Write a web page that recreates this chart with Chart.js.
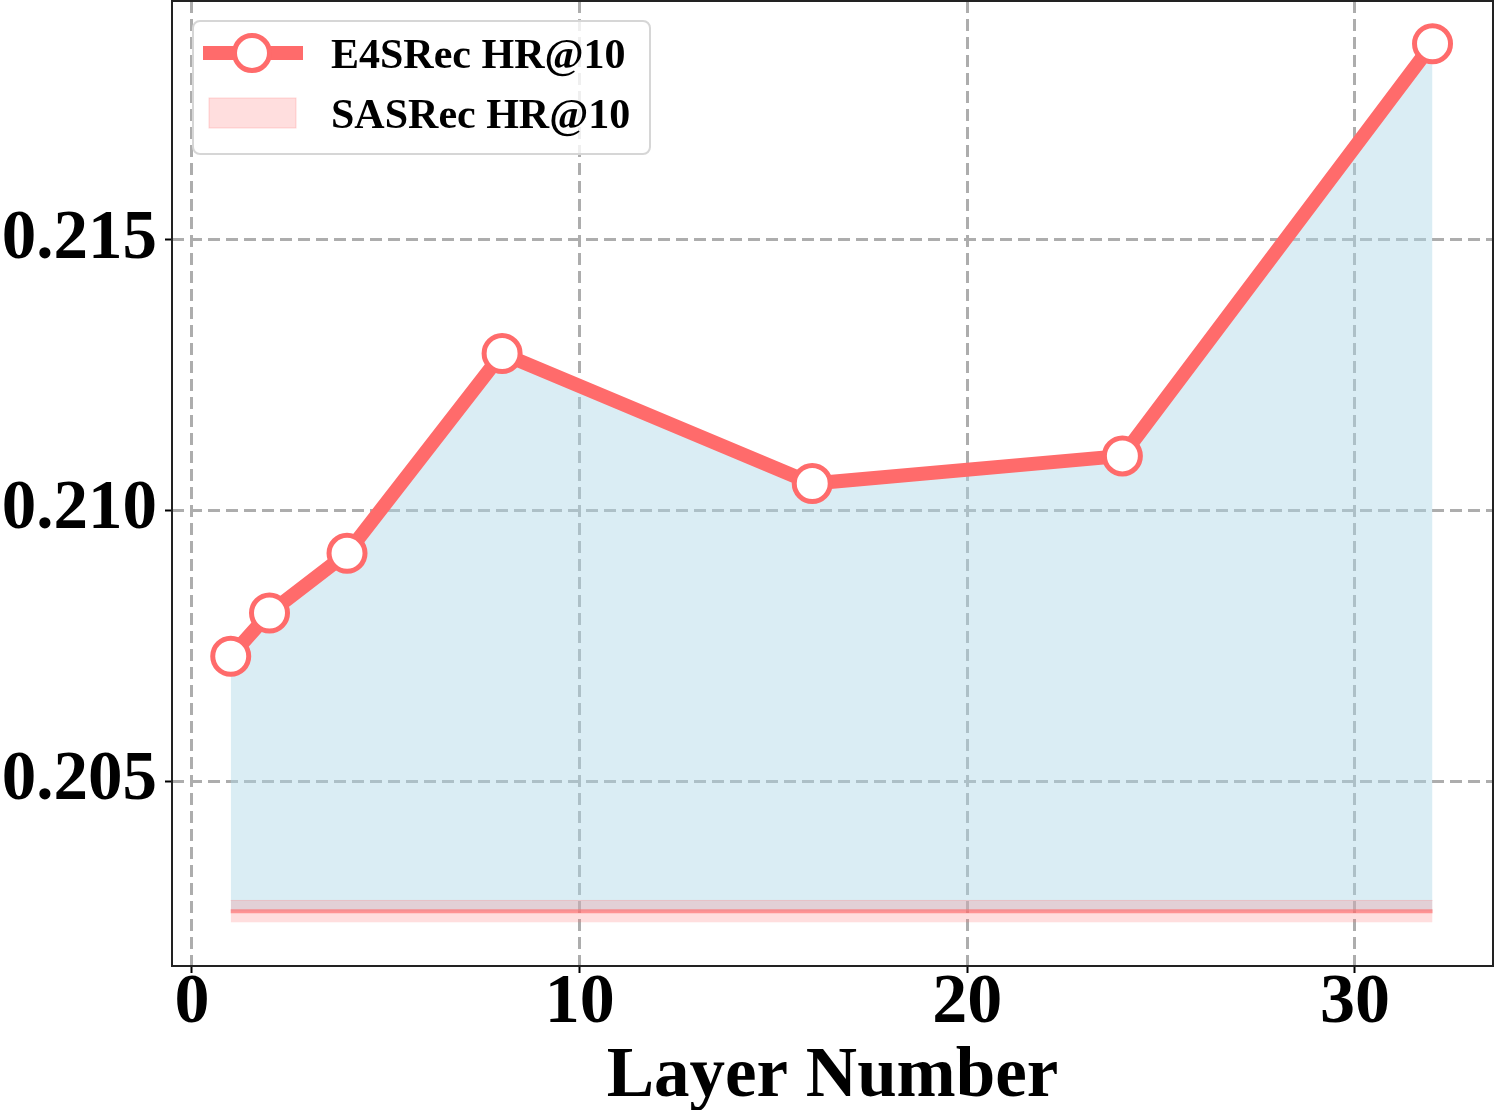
<!DOCTYPE html>
<html>
<head>
<meta charset="utf-8">
<script src="https://cdn.jsdelivr.net/npm/chart.js@4.4.0/dist/chart.umd.min.js"></script>
<style>
  html, body { margin: 0; padding: 0; background: #fff; }
  #wrap { width: 1494px; height: 1110px; }
</style>
</head>
<body>
<div id="wrap"><canvas id="layerChart"></canvas></div>
<script>
// data
const layers = [1, 2, 4, 8, 16, 24, 32];
const e4srecHR = [0.20731, 0.20811, 0.20921, 0.21290, 0.21050, 0.21101, 0.21862];
const sasrecHR = 0.2026;
const sasrecBand = 0.0002;
const xTicks = [0, 10, 20, 30];
const yTicks = [0.205, 0.210, 0.215];

const red = '#ff6b6b';
const serif = "'Liberation Serif', 'Times New Roman', serif";

const sasX = [layers[0], layers[layers.length - 1]];

// frame round the plot area + legend box
const framePlugin = {
    id: 'framePlugin',
    afterDraw(chart) {
        const c = chart.ctx, a = chart.chartArea;
        c.save();
        c.strokeStyle = '#222';
        c.lineWidth = 2;
        c.strokeRect(a.left, a.top, a.right - a.left, a.bottom - a.top);

        // legend
        const bx = 193, by = 21, bw = 457, bh = 133;
        c.beginPath();
        c.roundRect(bx, by, bw, bh, 7);
        c.fillStyle = 'rgba(255,255,255,0.8)';
        c.fill();
        c.strokeStyle = '#d6d6d6';
        c.lineWidth = 2;
        c.stroke();

        c.font = 'bold 42px ' + serif;
        c.fillStyle = '#000';
        c.textBaseline = 'alphabetic';

        // E4SRec handle
        c.strokeStyle = red;
        c.lineWidth = 14;
        c.beginPath();
        c.moveTo(203, 53);
        c.lineTo(303, 53);
        c.stroke();
        c.beginPath();
        c.arc(252, 53, 17.5, 0, Math.PI * 2);
        c.fillStyle = '#fff';
        c.fill();
        c.lineWidth = 5;
        c.stroke();
        c.fillStyle = '#000';
        c.fillText(chart.data.datasets[3].label, 331, 68);

        // SASRec handle
        c.fillStyle = 'rgba(255,107,107,0.22)';
        c.fillRect(209, 98, 87, 30);
        c.strokeStyle = 'rgba(255,107,107,0.25)';
        c.lineWidth = 1;
        c.strokeRect(209, 98, 87, 30);
        c.fillStyle = '#000';
        c.fillText(chart.data.datasets[1].label, 331, 128);
        c.restore();
    }
};

const noPad = s => { s.paddingTop = 0; s.paddingBottom = 0; s.paddingLeft = 0; s.paddingRight = 0; };

new Chart(document.getElementById('layerChart'), {
    type: 'line',
    data: {
        datasets: [
            {
                // blue area between E4SRec and the SASRec level
                label: 'area',
                data: layers.map((x, i) => ({x: x, y: e4srecHR[i]})),
                fill: {value: sasrecHR},
                backgroundColor: 'rgba(173,216,230,0.45)',
                borderColor: 'rgba(173,216,230,0.7)',
                borderWidth: 1,
                pointRadius: 0,
                order: 4
            },
            {
                label: 'SASRec HR@10',
                data: sasX.map(x => ({x: x, y: sasrecHR + sasrecBand})),
                fill: {value: sasrecHR - sasrecBand},
                backgroundColor: 'rgba(255,107,107,0.22)',
                borderColor: 'rgba(255,107,107,0.25)',
                borderWidth: 1,
                pointRadius: 0,
                order: 3
            },
            {
                label: 'sasLine',
                data: sasX.map(x => ({x: x, y: sasrecHR})),
                fill: false,
                borderColor: 'rgba(255,107,107,0.65)',
                borderWidth: 4,
                pointRadius: 0,
                order: 2
            },
            {
                label: 'E4SRec HR@10',
                data: layers.map((x, i) => ({x: x, y: e4srecHR[i]})),
                fill: false,
                borderColor: red,
                borderWidth: 14,
                pointRadius: 18,
                pointBorderWidth: 5,
                pointBackgroundColor: '#fff',
                pointBorderColor: red,
                order: 1
            }
        ]
    },
    options: {
        responsive: true,
        maintainAspectRatio: false,
        animation: false,
        layout: { autoPadding: false, padding: { top: 1, right: 1, left: 0, bottom: 0 } },
        plugins: {
            legend: { display: false },
            tooltip: { enabled: false }
        },
        scales: {
            x: {
                type: 'linear',
                min: -0.515,
                max: 33.56,
                afterBuildTicks: s => { s.ticks = xTicks.map(v => ({value: v})); },
                afterFit: s => { s.height = 144; noPad(s); },
                grid: {
                    color: '#adadad',
                    lineWidth: 3,
                    tickColor: '#000',
                    tickWidth: 2,
                    tickLength: 7,
                    tickBorderDash: []
                },
                border: { display: false, dash: [12, 6] },
                ticks: {
                    color: '#000',
                    padding: -11,
                    font: { family: serif, size: 70, weight: 'bold' }
                },
                title: {
                    display: true,
                    text: 'Layer Number',
                    color: '#000',
                    padding: { top: 0, bottom: -10 },
                    font: { family: serif, size: 71, weight: 'bold' }
                }
            },
            y: {
                type: 'linear',
                min: 0.20159,
                max: 0.21941,
                afterBuildTicks: s => { s.ticks = yTicks.map(v => ({value: v})); },
                afterFit: s => { s.width = 172; noPad(s); },
                grid: {
                    color: '#adadad',
                    lineWidth: 3,
                    tickColor: '#000',
                    tickWidth: 2,
                    tickLength: 7,
                    tickBorderDash: []
                },
                border: { display: false, dash: [12, 6] },
                ticks: {
                    color: '#000',
                    padding: 8,
                    font: { family: serif, size: 69, weight: 'bold' },
                    callback: v => v.toFixed(3)
                }
            }
        }
    },
    plugins: [framePlugin]
});
</script>
</body>
</html>
